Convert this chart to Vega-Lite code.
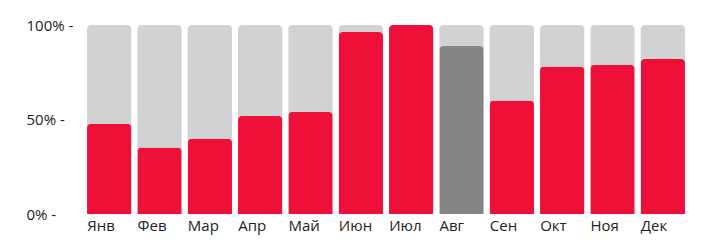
{
  "$schema": "https://vega.github.io/schema/vega-lite/v6.json",
  "width": 604,
  "height": 189,
  "autosize": "none",
  "padding": {"left": 84, "top": 25, "right": 25, "bottom": 33},
  "background": "white",
  "config": {"view": {"stroke": null}, "font": "Open Sans"},
  "data": {
    "values": [
      {"month": "Янв", "value": 0.477, "type": "normal"},
      {"month": "Фев", "value": 0.352, "type": "normal"},
      {"month": "Мар", "value": 0.398, "type": "normal"},
      {"month": "Апр", "value": 0.519, "type": "normal"},
      {"month": "Май", "value": 0.54, "type": "normal"},
      {"month": "Июн", "value": 0.963, "type": "normal"},
      {"month": "Июл", "value": 1.0, "type": "normal"},
      {"month": "Авг", "value": 0.889, "type": "highlight"},
      {"month": "Сен", "value": 0.6, "type": "normal"},
      {"month": "Окт", "value": 0.78, "type": "normal"},
      {"month": "Ноя", "value": 0.789, "type": "normal"},
      {"month": "Дек", "value": 0.82, "type": "normal"}
    ]
  },
  "encoding": {
    "x": {
      "field": "month",
      "type": "nominal",
      "sort": null,
      "scale": {"paddingInner": 0.12, "paddingOuter": 0.06},
      "axis": {
        "title": null,
        "labelAngle": 0,
        "labelAlign": "left",
        "labelOffset": -22,
        "ticks": false,
        "domain": false,
        "labelPadding": 4,
        "labelFontSize": 15,
        "labelColor": "#222222",
        "labelFont": "Open Sans"
      }
    }
  },
  "layer": [
    {
      "mark": {"type": "bar", "color": "#D1D2D4", "cornerRadiusTopLeft": 4, "cornerRadiusTopRight": 4},
      "encoding": {
        "y": {
          "datum": 1,
          "type": "quantitative",
          "scale": {"domain": [0, 1]},
          "axis": {
            "title": null,
            "values": [0, 0.5, 1],
            "format": ".0%",
            "labelExpr": "datum.label + ' -'",
            "labelAlign": "left",
            "labelPadding": 58,
            "ticks": false,
            "domain": false,
            "grid": false,
            "labelFontSize": 15,
            "labelColor": "#222222",
            "labelFont": "Open Sans"
          }
        }
      }
    },
    {
      "mark": {"type": "bar", "cornerRadiusTopLeft": 4, "cornerRadiusTopRight": 4},
      "encoding": {
        "y": {"field": "value", "type": "quantitative"},
        "color": {
          "field": "type",
          "type": "nominal",
          "scale": {"domain": ["normal", "highlight"], "range": ["#EE1038", "#868484"]},
          "legend": null
        }
      }
    }
  ]
}
